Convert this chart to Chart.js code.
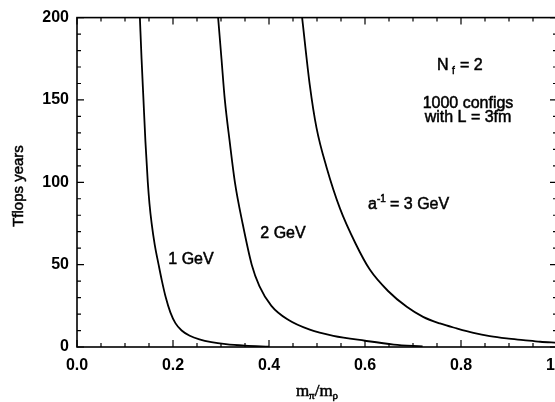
<!DOCTYPE html>
<html>
<head>
<meta charset="utf-8">
<script src="https://cdn.jsdelivr.net/npm/chart.js@4/dist/chart.umd.min.js"></script>
<style>
  html, body { margin: 0; padding: 0; background: #fff; overflow: hidden; }
  #wrap { width: 555px; height: 402px; overflow: hidden; }
</style>
</head>
<body>
<div id="wrap"><canvas id="mychart" width="600" height="402"></canvas></div>
<script>
// values: m_pi/m_rho against Tflops years
var gev1X = [0.131, 0.1345, 0.1385, 0.1425, 0.1475, 0.151, 0.1555, 0.162, 0.170, 0.177, 0.185, 0.1945, 0.205, 0.218, 0.235, 0.255, 0.28, 0.31, 0.35, 0.40];
var gev1Y = [200, 175, 150, 125, 100, 87, 75, 62, 50, 40, 30, 21, 14.5, 10, 6.8, 4.6, 2.9, 1.7, 0.8, 0.2];

var gev2X = [0.294, 0.301, 0.308, 0.318, 0.329, 0.345, 0.364, 0.38, 0.405, 0.44, 0.485, 0.534, 0.60, 0.66, 0.72];
var gev2Y = [200, 175, 150, 125, 100, 75, 50, 37, 25, 16.5, 10.5, 6.8, 3.8, 1.5, 0.3];

var gev3X = [0.469, 0.485, 0.499, 0.520, 0.548, 0.58, 0.61, 0.648, 0.687, 0.721, 0.756, 0.791, 0.826, 0.860, 0.895, 0.930, 0.965, 1.0];
var gev3Y = [200, 159, 133, 109, 84, 63, 47, 34, 24.4, 18.3, 14.3, 11.3, 8.6, 6.6, 5.2, 4.2, 3.2, 2.6];

var xTicks = [0, 0.2, 0.4, 0.6, 0.8, 1.0];
var xTickLabels = ["0.0", "0.2", "0.4", "0.6", "0.8", "1.0"];
var yTicks = [0, 50, 100, 150, 200];
var yTickLabels = ["0", "50", "100", "150", "200"];
var xMinorStep = 0.05;
var yMinorStep = 10;

var SANS = "'Liberation Sans', Arial, sans-serif";
var SERIF = "'Liberation Serif', 'Times New Roman', serif";

function pts(xs, ys) {
   return xs.map(function (x, i) { return { x: x, y: ys[i] }; });
}

function curve(xs, ys) {
   return {
      data: pts(xs, ys),
      borderColor: "#000",
      borderWidth: 1.8,
      pointRadius: 0,
      fill: false,
      cubicInterpolationMode: "monotone",
   };
}

// slightly heavier text, like the scanned original
function txt(ctx, s, x, y) {
   ctx.fillText(s, x, y);
   ctx.strokeText(s, x, y);
}

// frame, inward ticks on all four sides, and the text labels
var framePlugin = {
   id: "frame",
   afterDatasetsDraw: function (chart) {
      var ctx = chart.ctx;
      var a = chart.chartArea;
      var xs = chart.scales.x;
      var ys = chart.scales.y;
      ctx.save();
      ctx.strokeStyle = "#000";
      ctx.lineWidth = 1.6;
      ctx.strokeRect(a.left, a.top, a.right - a.left, a.bottom - a.top);

      ctx.lineWidth = 1.2;
      ctx.beginPath();
      for (var i = 0; i <= Math.round(1 / xMinorStep); i++) {
         var px = xs.getPixelForValue(i * xMinorStep);
         var len = (i % 4 === 0) ? 7 : 4;
         ctx.moveTo(px, a.bottom); ctx.lineTo(px, a.bottom - len);
         ctx.moveTo(px, a.top); ctx.lineTo(px, a.top + len);
      }
      for (var j = 0; j <= Math.round(200 / yMinorStep); j++) {
         var py = ys.getPixelForValue(j * yMinorStep);
         var l2 = (j % 5 === 0) ? 7 : 4;
         ctx.moveTo(a.left, py); ctx.lineTo(a.left + l2, py);
         ctx.moveTo(a.right, py); ctx.lineTo(a.right - l2, py);
      }
      ctx.stroke();

      ctx.fillStyle = "#000";
      ctx.lineWidth = 0.5;
      ctx.textBaseline = "middle";
      ctx.textAlign = "center";
      ctx.font = "16px " + SANS;
      txt(ctx, "1 GeV", 191, 260);
      txt(ctx, "2 GeV", 283, 234);
      txt(ctx, "1000 configs", 468, 104);
      txt(ctx, "with L = 3fm", 468, 118);

      // a^-1 = 3 GeV
      ctx.textAlign = "left";
      txt(ctx, "a", 368, 205);
      ctx.font = "10px " + SANS;
      txt(ctx, "-1", 377, 199);
      ctx.font = "16px " + SANS;
      txt(ctx, "= 3 GeV", 390, 205);

      // N_f = 2
      txt(ctx, "N", 437, 66);
      ctx.font = "10px " + SANS;
      txt(ctx, "f", 452, 71);
      ctx.font = "16px " + SANS;
      txt(ctx, "= 2", 460, 66);

      // y title
      ctx.save();
      ctx.translate(19, 186);
      ctx.rotate(-Math.PI / 2);
      ctx.textAlign = "center";
      ctx.font = "15px " + SANS;
      txt(ctx, "Tflops years", 0, 0);
      ctx.restore();

      // x title m_pi / m_rho
      ctx.textAlign = "left";
      var parts = [["m", 17, 0], ["\u03c0", 11, 4], ["/m", 17, 0], ["\u03c1", 11, 4]];
      var total = 0;
      parts.forEach(function (p) { ctx.font = p[1] + "px " + SERIF; total += ctx.measureText(p[0]).width; });
      var x0 = 317 - total / 2, y0 = 392;
      parts.forEach(function (p) {
         ctx.font = p[1] + "px " + SERIF;
         txt(ctx, p[0], x0, y0 + p[2]);
         x0 += ctx.measureText(p[0]).width;
      });
      ctx.restore();
   },
};

var chart = new Chart(document.getElementById("mychart"), {
   type: "line",
   data: {
      datasets: [curve(gev1X, gev1Y), curve(gev2X, gev2Y), curve(gev3X, gev3Y)],
   },
   plugins: [framePlugin],
   options: {
      responsive: false,
      animation: false,
      events: [],
      layout: { padding: { top: 16, right: 43, left: 0, bottom: 0 } },
      plugins: { legend: { display: false }, tooltip: { enabled: false } },
      scales: {
         x: {
            type: "linear",
            min: 0,
            max: 1,
            afterBuildTicks: function (s) { s.ticks = xTicks.map(function (v) { return { value: v }; }); },
            afterFit: function (s) { s.height = 55; },
            grid: { display: false, drawTicks: false },
            border: { display: false },
            ticks: {
               padding: 9,
               color: "#000",
               font: { family: SANS, size: 16, weight: "bold" },
               callback: function (v) { return xTickLabels[xTicks.indexOf(v)]; },
            },
         },
         y: {
            type: "linear",
            min: 0,
            max: 200,
            afterBuildTicks: function (s) { s.ticks = yTicks.map(function (v) { return { value: v }; }); },
            afterFit: function (s) { s.width = 77; },
            grid: { display: false, drawTicks: false },
            border: { display: false },
            ticks: {
               padding: 8,
               color: "#000",
               font: { family: SANS, size: 16, weight: "bold" },
               callback: function (v) { return yTickLabels[yTicks.indexOf(v)]; },
            },
         },
      },
   },
});
</script>
</body>
</html>
